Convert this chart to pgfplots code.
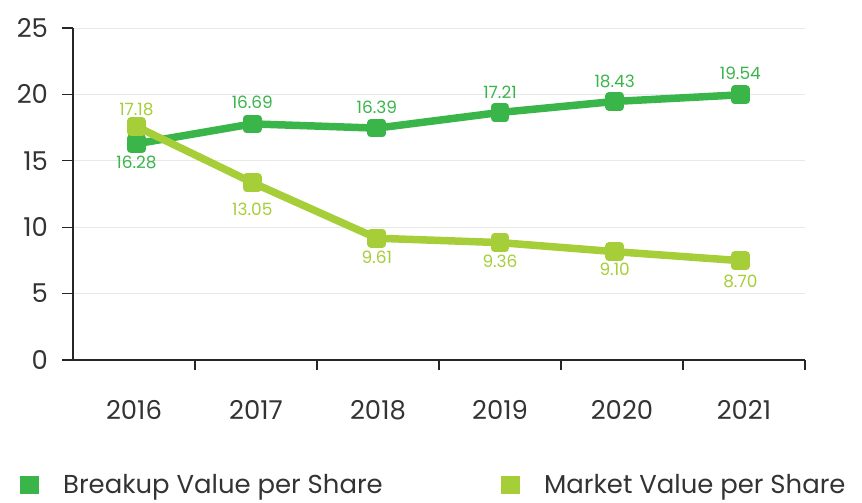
\documentclass[border=0pt]{standalone}
\usepackage{fontspec}
\setmainfont{Poppins}
\usepackage{pgfplots}
\pgfplotsset{compat=1.18}
\definecolor{darkgr}{HTML}{3AB54A}
\definecolor{lightgr}{HTML}{A6CE38}
\definecolor{gridc}{HTML}{E8E8E8}
\definecolor{txt}{HTML}{333333}
\newcommand{\bigfont}{\fontsize{26}{30}\selectfont}
\newcommand{\labfont}{\fontsize{17}{20}\selectfont}
\begin{document}
\begin{tikzpicture}
\path[use as bounding box] (-73bp,-143bp) rectangle (789bp,360bp);
\begin{axis}[
    at={(0,0)}, anchor=south west,
    scale only axis, width=732bp, height=332bp,
    xmin=-0.5, xmax=5.5, ymin=0, ymax=25,
    axis lines*=left,
    axis line style={line width=1.1bp, color=black!85, -},
    tick align=outside,
    xtick={0,...,5}, xticklabels={2016,2017,2018,2019,2020,2021},
    minor xtick={0.5,1.5,...,5.5},
    major x tick style={draw=none},
    minor tick length=10bp, major tick length=10.5bp,
    tick style={line width=1.1bp, color=black!85},
    ytick={0,5,...,25},
    ymajorgrids, grid style={gridc, line width=0.9bp},
    /pgf/number format/assume math mode=true,
    tick label style={font=\bigfont, text=txt},
    yticklabel style={xshift=-11bp},
    xticklabel style={yshift=-26bp},
    clip=false,
    legend columns=2,
    legend style={at={(axis description cs:-0.0765,-0.375)}, anchor=west,
        draw=none, fill=none, font=\bigfont, text=txt,
        /tikz/every odd column/.style={column sep=22bp},
        /tikz/every even column/.style={column sep=0bp}},
    legend image code/.code={\fill[draw=none] (0bp,-9bp) rectangle (19bp,9bp);},
    nodes near coords,
    point meta=explicit symbolic,
    visualization depends on={\thisrow{dy} \as \dy},
    every node near coord/.append style={font=\labfont, anchor=center, yshift=\dy bp},
]
\addplot[color=darkgr, line width=7.5bp, line join=round, mark=square*,
    mark size=5.6bp, mark options={draw=none, fill=darkgr},
    every node near coord/.append style={text=darkgr}]
    table[meta=lab] {
x     y      lab    dy
0.02  16.28  16.28  -19
0.97  17.78  16.69  22
1.99  17.46  16.39  21
3.00  18.64  17.21  20
3.94  19.47  18.43  20
4.97  19.97  19.54  21
};
\addlegendentry{\makebox[436bp][l]{Breakup Value per Share}}
\addplot[color=lightgr, line width=7.5bp, line join=round, mark=square*,
    mark size=5.6bp, mark options={draw=none, fill=lightgr},
    every node near coord/.append style={text=lightgr}]
    table[meta=lab] {
x     y      lab    dy
0.02  17.58  17.18  17
0.97  13.36  13.05  -27
1.99  9.17   9.61   -19
3.00  8.84   9.36   -19
3.94  8.16   9.10   -18
4.97  7.48   8.70   -21
};
\addlegendentry{Market Value per Share}
\end{axis}
\end{tikzpicture}
\end{document}
